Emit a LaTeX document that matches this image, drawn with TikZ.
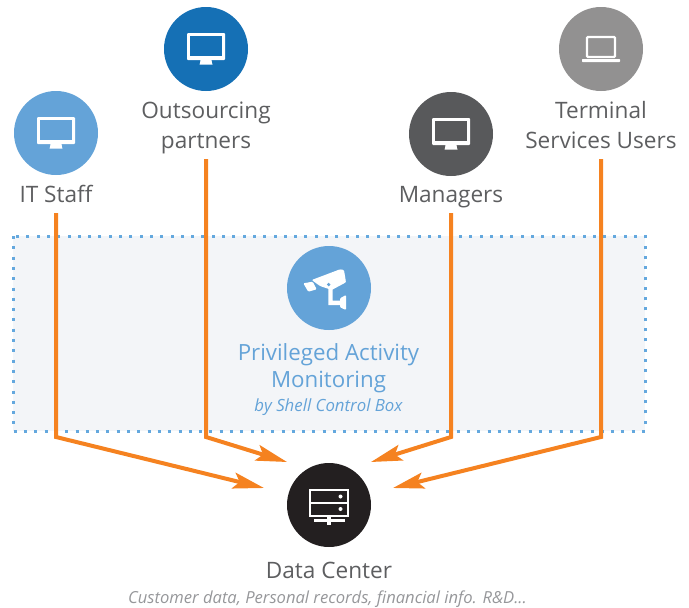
\documentclass[tikz,border=0pt]{standalone}
\usepackage{fontspec}
\setmainfont{Open Sans}
\usetikzlibrary{arrows.meta}
\definecolor{txt}{HTML}{5D5E60}
\definecolor{lightblue}{HTML}{64A3D8}
\definecolor{deepblue}{HTML}{1570B5}
\definecolor{darkgrey}{HTML}{58595B}
\definecolor{midgrey}{HTML}{929191}
\definecolor{nearblack}{HTML}{231F20}
\definecolor{flowc}{HTML}{F58220}
\definecolor{zonefill}{HTML}{F3F5F8}
\definecolor{zonedot}{HTML}{64A8DE}
\definecolor{subtxt}{HTML}{96979A}
\tikzset{
  disc/.style={circle,minimum size=84pt,inner sep=0pt,outer sep=0pt,fill=#1},
  lbl/.style={anchor=south,inner xsep=0pt,inner ysep=1.5pt,outer sep=0pt,align=center,text=txt,
    font=\fontsize{22.6}{30}\selectfont},
  flow/.style={draw=flowc,line width=4pt,miter limit=10,-{Stealth[length=31pt,width=16pt,inset=6pt]}},
  zone/.style={fill=zonefill,draw=zonedot,line width=3pt,dash pattern=on 3pt off 7.3pt},
  icon/.style={fill=white,draw=none}
}
\newcommand{\monitoricon}[2]{%
  \begin{scope}[shift={(#1)}]
    \fill[icon,rounded corners=1pt] (-19,-16) rectangle (19,11);
    \fill[#2] (-16,-13) rectangle (16,7);
    \fill[icon] (-5.5,11) -- (5.5,11) -- (6,14) -- (6.5,15.5) -- (-6.5,15.5) -- (-6,14) -- cycle;
  \end{scope}}
\begin{document}
\begin{tikzpicture}[x=1pt,y=-1pt]
\useasboundingbox (0,0) rectangle (689,608);
\draw[zone] (13,236) rectangle (645,431);

\node[disc=lightblue] (it) at (56,133) {};
\node[disc=deepblue] (out) at (206,49) {};
\node[disc=darkgrey] (mgr) at (451,134) {};
\node[disc=midgrey] (term) at (601,49) {};
\node[disc=lightblue] (cam) at (329,288) {};
\node[disc=nearblack] (dc) at (329,505) {};

\node[lbl] (itl) at (56,213) {\strut IT Staff};
\node[lbl] (outl) at (206,159) {\strut Outsourcing\\\strut partners};
\node[lbl] (mgrl) at (451,213) {\strut Managers};
\node[lbl] (terml) at (601,159) {\strut Terminal\\\strut Services Users};
\node[anchor=base,inner sep=0pt,align=center,text=lightblue,font=\fontsize{22.3}{27}\selectfont] (caml) at (328.5,387) {Privileged Activity\\Monitoring};
\node[anchor=base,inner sep=0pt,text=lightblue,font=\fontsize{16.8}{20}\selectfont\itshape] (cams) at (328.5,411) {by Shell Control Box};
\node[anchor=base,inner sep=0pt,text=txt,font=\fontsize{22.6}{30}\selectfont] (dcl) at (329,578) {Data Center};
\node[anchor=base,inner sep=0pt,text=subtxt,font=\fontsize{16.6}{20}\selectfont\itshape] (dcs) at (327.5,603) {Customer data, Personal records, financial info. R\&D...};

\coordinate (b1) at (56,437);
\coordinate (b2) at (206,437);
\coordinate (b3) at (451,437);
\coordinate (b4) at (601,437);
\coordinate (e1) at (264,488);
\coordinate (e2) at (287,462);
\coordinate (e3) at (371,462);
\coordinate (e4) at (393,488);
\draw[flow] (itl.south) -- (b1) -- (e1);
\draw[flow] (outl.south) -- (b2) -- (e2);
\draw[flow] (mgrl.south) -- (b3) -- (e3);
\draw[flow] (terml.south) -- (b4) -- (e4);

\monitoricon{it}{lightblue}
\monitoricon{out}{deepblue}
\monitoricon{mgr}{darkgrey}

% laptop
\begin{scope}[shift={(term)}]
  \draw[white,line width=2.2pt,rounded corners=1pt] (-14,-12) rectangle (14,8);
  \fill[white,rounded corners=.6pt] (-19,10) rectangle (19,13);
\end{scope}

% camera
\fill[icon,rounded corners=1pt] (311.7,280) -- (340,269.3) -- (344,270) -- (346,282.3) -- (331.7,290) -- (320,286) -- cycle;
\fill[icon,rounded corners=1pt] (303.3,283.3) -- (312.7,281.7) -- (316.7,289.3) -- (308.3,291.7) -- cycle;
\fill[icon] (328.3,289) -- (332.7,289) -- (332.7,300.7) -- (340.7,300.7) -- (340.7,305) -- (328.3,305) -- cycle;
\fill[icon,rounded corners=1pt] (340,298.3) -- (346,295) -- (346,310) -- (340,307.3) -- cycle;
\fill[lightblue] (328.7,284.5) circle (1.8);

% server
\begin{scope}[shift={(dc)}]
  \draw[white,line width=2.4pt] (-19,-15) rectangle (19,11);
  \draw[white,line width=2.4pt] (-19,-2) -- (19,-2);
  \fill[white] (11.5,-8.5) circle (2);
  \fill[white] (11.5,4) circle (2);
  \fill[white] (-15.5,13.5) rectangle (15.5,17);
  \fill[white] (-1.7,11) rectangle (1.7,19.5);
\end{scope}
\end{tikzpicture}
\end{document}
